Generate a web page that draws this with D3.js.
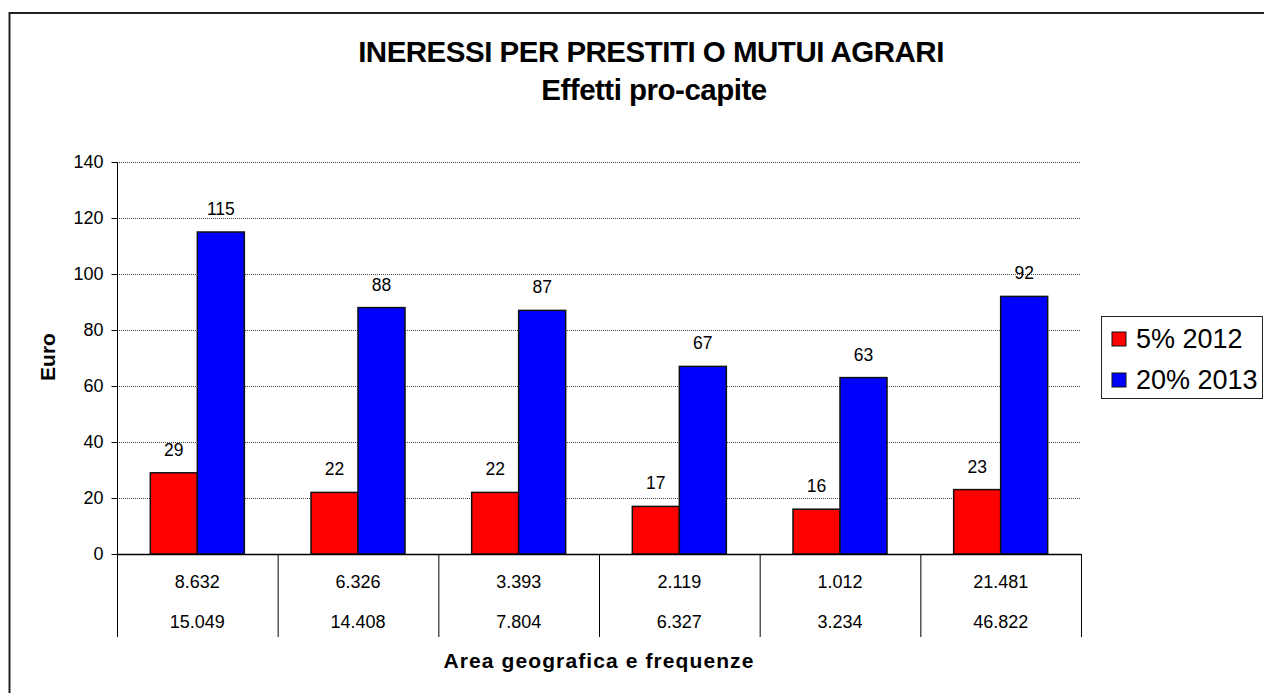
<!DOCTYPE html>
<html>
<head>
<meta charset="utf-8">
<script src="https://cdn.jsdelivr.net/npm/d3@7"></script>
<style>
  html, body { margin: 0; padding: 0; background: #fff; overflow: hidden; }
  svg { display: block; font-family: "Liberation Sans", Arial, sans-serif; }
</style>
</head>
<body>
<svg id="chart" width="1264" height="693"></svg>
<script>
// Category rows shown under each group (two rows of frequencies)
const categories = ["A", "B", "C", "D", "E", "F"];
const rowTop = ["8.632", "6.326", "3.393", "2.119", "1.012", "21.481"];
const rowBottom = ["15.049", "14.408", "7.804", "6.327", "3.234", "46.822"];

// Series
const seriesNames = ["5% 2012", "20% 2013"];
const seriesColors = ["#ff0000", "#0000ff"];
const values2012 = [29, 22, 22, 17, 16, 23];
const values2013 = [115, 88, 87, 67, 63, 92];

// Y axis ticks
const yTicks = [0, 20, 40, 60, 80, 100, 120, 140];

const svg = d3.select("#chart");

const plot = { left: 117, right: 1081, top: 162, bottom: 554 };

// Outer chart frame (runs off the right and bottom edges)
svg.append("rect")
  .attr("x", 9.5).attr("y", 13)
  .attr("width", 1400).attr("height", 800)
  .attr("fill", "#fff")
  .attr("stroke", "#222").attr("stroke-width", 2);

// Titles
svg.append("text")
  .attr("x", 651).attr("y", 62)
  .attr("text-anchor", "middle")
  .attr("font-size", 29.5).attr("font-weight", "bold")
  .attr("letter-spacing", -0.5)
  .text("INERESSI PER PRESTITI O MUTUI AGRARI");
svg.append("text")
  .attr("x", 654).attr("y", 100)
  .attr("text-anchor", "middle")
  .attr("font-size", 29.5).attr("font-weight", "bold")
  .attr("letter-spacing", -0.5)
  .text("Effetti pro-capite");

const y = d3.scaleLinear().domain([0, 140]).range([plot.bottom, plot.top]);
const x0 = d3.scaleBand().domain(categories).range([plot.left, plot.right]).padding(0);
const x1 = d3.scaleBand().domain(seriesNames).range([0, x0.bandwidth()])
  .paddingInner(0).paddingOuter(0.709);

// Gridlines
svg.append("g")
  .selectAll("line")
  .data(yTicks.filter(d => d > 0))
  .join("line")
  .attr("x1", plot.left).attr("x2", plot.right)
  .attr("y1", d => y(d) + 0.5).attr("y2", d => y(d) + 0.5)
  .attr("stroke", "#444").attr("stroke-width", 1)
  .attr("stroke-dasharray", "1,1");

// Y axis
const yAxis = d3.axisLeft(y).tickValues(yTicks).tickSize(6).tickPadding(8);
const gy = svg.append("g")
  .attr("transform", `translate(${plot.left + 0.5},0)`)
  .call(yAxis);
gy.select(".domain").remove();
gy.selectAll(".tick line").attr("stroke", "#000");
gy.selectAll(".tick text")
  .attr("font-size", 18).attr("fill", "#000")
  .attr("font-family", "Liberation Sans, Arial, sans-serif");

// Y axis line
svg.append("line")
  .attr("x1", plot.left + 0.5).attr("x2", plot.left + 0.5)
  .attr("y1", plot.top).attr("y2", 637)
  .attr("stroke", "#000").attr("stroke-width", 1);

// Y axis title
svg.append("text")
  .attr("transform", "translate(55,357) rotate(-90)")
  .attr("text-anchor", "middle")
  .attr("font-size", 21).attr("font-weight", "bold")
  .text("Euro");

// Bars
const data = categories.map((c, i) => ({
  cat: c,
  vals: [values2012[i], values2013[i]]
}));

const groups = svg.append("g")
  .selectAll("g")
  .data(data)
  .join("g")
  .attr("transform", d => `translate(${x0(d.cat)},0)`);

groups.selectAll("rect")
  .data(d => d.vals.map((v, j) => ({ name: seriesNames[j], v, j })))
  .join("rect")
  .attr("x", d => x1(d.name))
  .attr("y", d => y(d.v))
  .attr("width", x1.bandwidth())
  .attr("height", d => y(0) - y(d.v))
  .attr("fill", d => seriesColors[d.j])
  .attr("stroke", "#111").attr("stroke-width", 1.5);

groups.selectAll("text")
  .data(d => d.vals.map((v, j) => ({ name: seriesNames[j], v, j })))
  .join("text")
  .attr("x", d => x1(d.name) + x1.bandwidth() / 2)
  .attr("y", d => y(d.v) - 17)
  .attr("text-anchor", "middle")
  .attr("font-size", 17.5)
  .text(d => d.v);

// Baseline
svg.append("line")
  .attr("x1", plot.left).attr("x2", plot.right)
  .attr("y1", plot.bottom + 0.5).attr("y2", plot.bottom + 0.5)
  .attr("stroke", "#000").attr("stroke-width", 1.5);

// Category table separators
svg.append("g")
  .selectAll("line")
  .data(categories.slice(1).map(c => x0(c)).concat([plot.right]))
  .join("line")
  .attr("x1", d => d + 0.5).attr("x2", d => d + 0.5)
  .attr("y1", plot.bottom).attr("y2", 637)
  .attr("stroke", "#000").attr("stroke-width", 1);

// Category table text
const cat = svg.append("g");
cat.selectAll("text.r1")
  .data(categories)
  .join("text")
  .attr("class", "r1")
  .attr("x", d => x0(d) + x0.bandwidth() / 2)
  .attr("y", 588)
  .attr("text-anchor", "middle")
  .attr("font-size", 18)
  .text((d, i) => rowTop[i]);
cat.selectAll("text.r2")
  .data(categories)
  .join("text")
  .attr("class", "r2")
  .attr("x", d => x0(d) + x0.bandwidth() / 2)
  .attr("y", 628)
  .attr("text-anchor", "middle")
  .attr("font-size", 18)
  .text((d, i) => rowBottom[i]);

// X axis title
svg.append("text")
  .attr("x", (plot.left + plot.right) / 2).attr("y", 668)
  .attr("text-anchor", "middle")
  .attr("font-size", 21).attr("font-weight", "bold")
  .attr("letter-spacing", 1.1)
  .text("Area geografica e frequenze");

// Legend
const legend = svg.append("g");
legend.append("rect")
  .attr("x", 1101.5).attr("y", 316.5)
  .attr("width", 161).attr("height", 82)
  .attr("fill", "#fff").attr("stroke", "#222").attr("stroke-width", 1);
const li = legend.selectAll("g.item")
  .data(seriesNames)
  .join("g")
  .attr("class", "item")
  .attr("transform", (d, i) => `translate(0,${i * 41})`);
li.append("rect")
  .attr("x", 1112).attr("y", 332)
  .attr("width", 14).attr("height", 14)
  .attr("fill", (d, i) => seriesColors[i])
  .attr("stroke", "#111").attr("stroke-width", 1);
li.append("text")
  .attr("x", 1136).attr("y", 348)
  .attr("font-size", 27)
  .text(d => d);
</script>
</body>
</html>
